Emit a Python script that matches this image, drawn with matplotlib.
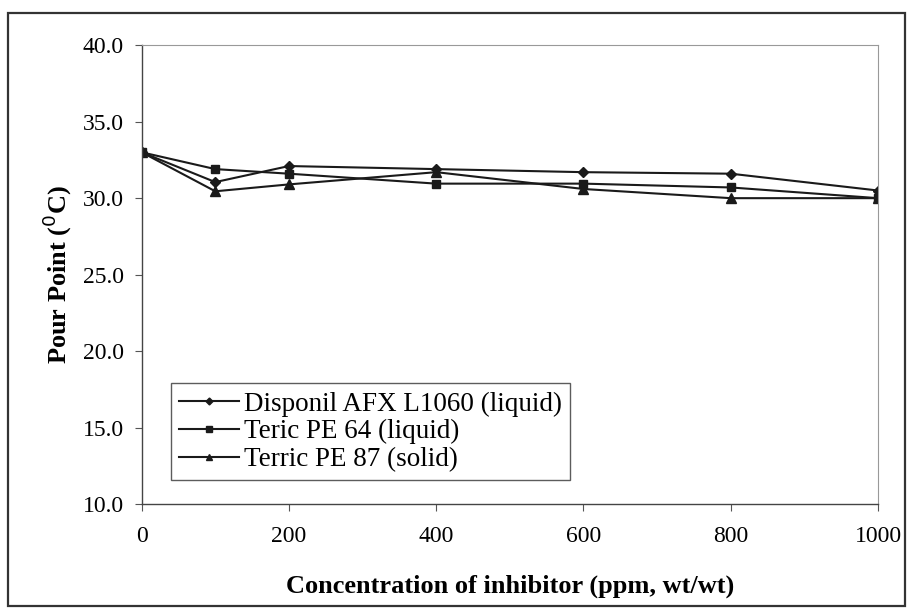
import matplotlib
matplotlib.use("Agg")
import matplotlib.pyplot as plt
from matplotlib.patches import Rectangle

# inhibitor concentration (ppm) and pour points (deg C)
conc = [0, 100, 200, 400, 600, 800, 1000]
disponil = [33.0, 31.05, 32.1, 31.9, 31.7, 31.6, 30.5]
teric64 = [33.0, 31.9, 31.6, 30.95, 30.95, 30.7, 30.0]
terric87 = [33.0, 30.45, 30.9, 31.7, 30.6, 30.0, 30.0]

y_ticks = [10.0, 15.0, 20.0, 25.0, 30.0, 35.0, 40.0]
x_ticks = [0, 200, 400, 600, 800, 1000]

plt.rcParams["font.family"] = ["Liberation Serif", "DejaVu Serif"]

fig = plt.figure(figsize=(9.08, 6.11), dpi=100)
ax = fig.add_axes([0.156, 0.175, 0.811, 0.751])

# outer frame around the whole chart
fig.patches.append(Rectangle((0.009, 0.008), 0.988, 0.97, transform=fig.transFigure,
                             fill=False, edgecolor="#333333", linewidth=1.6))

ax.plot(conc, disponil, color="#1a1a1a", lw=1.5, marker="D", ms=5,
        label="Disponil AFX L1060 (liquid)")
ax.plot(conc, teric64, color="#1a1a1a", lw=1.5, marker="s", ms=6,
        label="Teric PE 64 (liquid)")
ax.plot(conc, terric87, color="#1a1a1a", lw=1.5, marker="^", ms=7,
        label="Terric PE 87 (solid)")

ax.set_xlim(0, 1000)
ax.set_ylim(10, 40)
ax.set_xticks(x_ticks)
ax.set_yticks(y_ticks)
ax.set_yticklabels([f"{v:.1f}" for v in y_ticks])
ax.tick_params(axis="both", labelsize=17, direction="out", length=5,
               color="#555555")
ax.tick_params(axis="x", pad=11)
ax.tick_params(axis="y", pad=8)

for side in ["top", "right"]:
    ax.spines[side].set_color("#999999")
    ax.spines[side].set_linewidth(0.8)
for side in ["left", "bottom"]:
    ax.spines[side].set_color("#444444")
    ax.spines[side].set_linewidth(1.0)

ax.set_xlabel("Concentration of inhibitor (ppm, wt/wt)", fontsize=19,
              fontweight="bold", labelpad=20)
ax.set_ylabel("Pour Point ($^{0}$C)", fontsize=19, fontweight="bold", labelpad=6)

leg = ax.legend(loc="lower left", bbox_to_anchor=(0.04, 0.052), fontsize=19.5,
                frameon=True, fancybox=False, borderpad=0.3, labelspacing=0.1,
                handlelength=2.2, handletextpad=0.2, markerscale=0.7,
                borderaxespad=0)
leg.get_frame().set_edgecolor("#333333")
leg.get_frame().set_linewidth(1.0)

fig.savefig("out.png", dpi=100)
